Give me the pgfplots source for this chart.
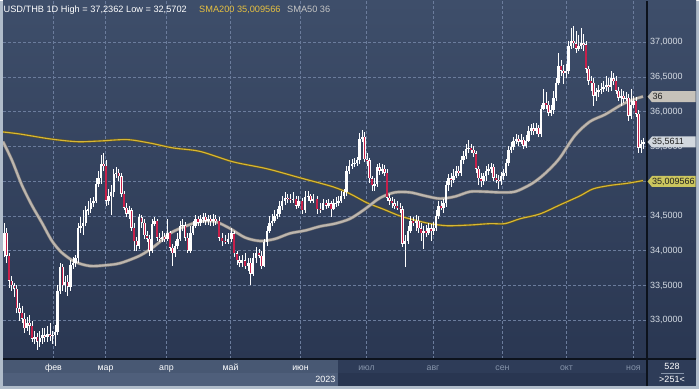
\documentclass[border=0pt]{standalone}
\usepackage{pgfplots}
\pgfplotsset{compat=1.18}
\usepackage{pgfplotstable}
\usepackage{fontspec}
\setmainfont{Liberation Sans}

\definecolor{outerframe}{HTML}{B0BCCA}
\definecolor{bgtop}{HTML}{3E4E6A}
\definecolor{bgbot}{HTML}{2A3752}
\definecolor{gridc}{HTML}{6B7C9C}
\definecolor{candred}{HTML}{C8204A}
\definecolor{smagrey}{HTML}{BDB6AE}
\definecolor{smagreyd}{HTML}{7E7A78}
\definecolor{smagold}{HTML}{D8B836}
\definecolor{smagoldd}{HTML}{6A5A1C}
\definecolor{ticktext}{HTML}{D6DCE4}
\definecolor{monthoff}{HTML}{8694AA}
\definecolor{panelL}{HTML}{485873}
\definecolor{panelLb}{HTML}{4F5F7B}
\definecolor{panelR}{HTML}{2E3C58}
\definecolor{panelRb}{HTML}{293651}
\definecolor{sepc}{HTML}{0C121C}
\definecolor{titlegold}{HTML}{E6C040}
\definecolor{titlegrey}{HTML}{C4C4C4}
\definecolor{boxgrey}{HTML}{C6C2BA}
\definecolor{boxlight}{HTML}{D2D8DE}
\definecolor{boxgold}{HTML}{CCC65E}
\definecolor{boxtext}{HTML}{202020}

\pgfplotsset{candle/.style={only marks, mark=*, mark size=0pt, mark options={draw=none, fill=none},
  error bars/.cd, y dir=both, y explicit, error mark=none}}

\pgfplotstableread{
x o h l c
4 34.00 34.40 33.91 34.26
6.6 34.26 34.32 33.83 33.93
9.1 33.93 33.97 33.47 33.57
11.7 33.57 33.63 33.42 33.50
14.2 33.50 33.54 33.34 33.45
16.8 33.45 33.50 33.11 33.17
19.3 33.17 33.24 32.99 33.11
21.9 33.11 33.21 32.96 33.02
24.4 33.02 33.11 32.82 32.88
27.0 32.88 33.05 32.85 32.96
29.5 32.96 33.08 32.78 32.92
32.1 32.92 32.99 32.69 32.73
34.6 32.73 32.85 32.65 32.76
37.2 32.76 32.82 32.5702 32.69
39.7 32.69 32.85 32.62 32.75
42.3 32.75 32.89 32.66 32.78
44.8 32.78 32.88 32.68 32.76
47.4 32.76 32.92 32.69 32.80
49.9 32.80 32.96 32.70 32.78
52.5 32.78 32.85 32.66 32.79
55.0 32.79 32.93 32.63 32.83
57.6 32.83 33.50 32.78 33.42
60.1 33.42 33.83 33.37 33.77
62.7 33.77 33.81 33.42 33.50
65.2 33.50 33.63 33.40 33.55
67.8 33.55 33.65 33.35 33.48
70.3 33.48 33.86 33.42 33.80
72.9 33.80 33.91 33.74 33.83
75.4 33.83 33.94 33.77 33.89
78.0 33.89 34.40 33.83 34.32
80.6 34.32 34.49 34.26 34.35
83.1 34.35 34.58 34.23 34.40
85.7 34.40 34.65 34.35 34.58
88.2 34.58 34.72 34.52 34.60
90.8 34.60 34.76 34.55 34.69
93.3 34.69 34.78 34.63 34.72
95.9 34.72 35.04 34.68 34.96
98.4 34.96 35.15 34.92 35.04
101.0 35.04 35.38 34.96 35.25
103.5 35.25 35.40 35.15 35.22
106.1 35.22 35.30 34.65 34.72
108.6 34.72 34.89 34.66 34.79
111.1 34.79 34.95 34.52 34.84
113.7 34.84 35.18 34.78 35.11
116.2 35.11 35.20 35.04 35.12
118.8 35.12 35.18 35.01 35.07
121.4 35.07 35.12 34.78 34.82
123.9 34.82 34.86 34.58 34.62
126.5 34.62 34.68 34.49 34.53
129.0 34.53 34.65 34.46 34.58
131.6 34.58 34.62 34.29 34.33
134.1 34.33 34.40 34.00 34.14
136.7 34.14 34.20 34.00 34.07
139.2 34.07 34.53 34.03 34.48
141.8 34.48 34.52 34.32 34.40
144.3 34.40 34.46 34.17 34.22
146.9 34.22 34.29 34.12 34.17
149.4 34.17 34.23 33.93 34.00
152.0 34.00 34.46 33.97 34.39
154.5 34.39 34.49 34.35 34.43
157.1 34.43 34.46 34.14 34.19
159.7 34.19 34.26 34.12 34.17
162.2 34.17 34.29 34.12 34.20
164.8 34.20 34.26 34.13 34.17
167.3 34.17 34.46 34.14 34.26
169.9 34.26 34.29 34.00 34.04
172.4 34.04 34.10 33.78 33.96
175.0 33.96 34.14 33.91 34.07
177.5 34.07 34.25 34.03 34.17
180.1 34.17 34.43 34.14 34.36
182.6 34.36 34.46 34.29 34.37
185.2 34.37 34.42 34.14 34.19
187.7 34.19 34.25 33.97 34.00
190.3 34.00 34.35 33.97 34.26
192.9 34.26 34.43 34.22 34.36
195.4 34.36 34.52 34.32 34.46
198.0 34.46 34.50 34.35 34.40
200.5 34.40 34.52 34.36 34.46
203.1 34.46 34.55 34.40 34.49
205.6 34.49 34.55 34.37 34.43
208.0 34.43 34.52 34.37 34.46
210.5 34.46 34.52 34.36 34.43
213.0 34.43 34.53 34.35 34.46
215.5 34.46 34.52 34.37 34.43
219.0 34.43 34.49 34.14 34.19
222.0 34.19 34.26 34.07 34.14
225.0 34.14 34.23 34.09 34.13
228.0 34.13 34.26 34.10 34.17
231.5 34.17 34.32 34.12 34.25
234.0 34.25 34.29 33.91 33.96
237.0 33.96 34.00 33.80 33.86
239.5 33.86 33.93 33.77 33.83
242.0 33.83 33.94 33.77 33.86
245.0 33.86 33.97 33.74 33.78
248.0 33.78 33.89 33.71 33.83
250.5 33.83 33.89 33.50 33.67
253.0 33.67 33.97 33.63 33.89
256.0 33.89 34.06 33.83 33.97
259.0 33.97 34.03 33.89 33.93
261.5 33.93 34.00 33.74 33.78
264.0 33.78 34.17 33.76 34.12
267.0 34.12 34.35 34.07 34.29
269.5 34.29 34.50 34.25 34.40
272.0 34.40 34.53 34.36 34.43
274.5 34.43 34.58 34.40 34.50
277.0 34.50 34.60 34.46 34.53
279.5 34.53 34.72 34.49 34.65
282.0 34.65 34.79 34.58 34.72
285.0 34.72 34.84 34.66 34.76
287.5 34.76 34.82 34.69 34.75
290.0 34.75 34.82 34.68 34.73
293.0 34.73 34.84 34.68 34.75
296.0 34.75 34.79 34.60 34.65
298.5 34.65 34.79 34.62 34.72
302.0 34.72 34.76 34.53 34.58
305.0 34.58 34.86 34.55 34.78
308.0 34.78 34.86 34.72 34.79
310.5 34.79 34.82 34.68 34.72
313.0 34.72 34.82 34.69 34.75
317.0 34.75 34.79 34.53 34.60
320.0 34.60 34.68 34.55 34.59
323.0 34.59 34.75 34.58 34.69
326.0 34.69 34.73 34.60 34.65
328.5 34.65 34.75 34.62 34.68
331.0 34.68 34.72 34.49 34.60
333.5 34.60 34.75 34.58 34.68
336.0 34.68 34.78 34.63 34.69
338.5 34.69 34.79 34.65 34.72
341.0 34.72 34.86 34.69 34.79
344.0 34.79 34.89 34.75 34.84
346.5 34.84 35.22 34.79 35.15
349.0 35.15 35.30 35.11 35.22
352.0 35.22 35.32 35.18 35.25
354.5 35.25 35.34 35.20 35.27
357.0 35.27 35.35 35.22 35.30
359.5 35.30 35.70 35.25 35.61
362.0 35.61 35.74 35.56 35.64
364.5 35.64 35.71 35.28 35.32
367.0 35.32 35.40 35.22 35.30
369.5 35.30 35.34 34.98 35.04
372.0 35.04 35.08 34.86 34.94
374.5 34.94 35.04 34.86 34.96
377.0 34.96 35.25 34.92 35.20
379.5 35.20 35.27 35.09 35.15
382.0 35.15 35.25 35.11 35.18
384.5 35.18 35.24 35.07 35.12
387.0 35.12 35.18 34.72 34.76
389.5 34.76 34.82 34.66 34.72
392.0 34.72 34.78 34.62 34.68
394.5 34.68 34.75 34.60 34.65
397.0 34.65 34.72 34.58 34.62
400.0 34.62 34.68 34.55 34.60
402.5 34.60 34.65 34.06 34.10
405.0 34.10 34.22 33.76 34.14
408.0 34.14 34.35 34.09 34.29
410.5 34.29 34.50 34.25 34.43
413.0 34.43 34.49 34.35 34.40
416.0 34.40 34.52 34.29 34.43
418.5 34.43 34.50 34.26 34.32
421.0 34.32 34.40 34.14 34.25
423.5 34.25 34.36 34.03 34.29
426.0 34.29 34.37 34.20 34.26
428.5 34.26 34.40 34.23 34.32
431.0 34.32 34.39 34.14 34.29
433.5 34.29 34.42 34.22 34.33
436.0 34.33 34.58 34.29 34.50
438.5 34.50 34.72 34.46 34.65
441.0 34.65 34.72 34.58 34.62
443.5 34.62 34.75 34.55 34.68
446.0 34.68 35.01 34.63 34.94
448.5 34.94 35.11 34.86 35.04
451.0 35.04 35.12 34.92 35.02
453.5 35.02 35.17 34.98 35.08
456.0 35.08 35.22 35.04 35.15
458.5 35.15 35.22 35.07 35.12
461.0 35.12 35.37 35.08 35.30
463.5 35.30 35.44 35.25 35.37
466.0 35.37 35.54 35.32 35.47
468.5 35.47 35.60 35.41 35.48
471.0 35.48 35.54 35.40 35.45
473.5 35.45 35.51 35.35 35.40
476.0 35.40 35.44 35.12 35.18
478.5 35.18 35.22 34.94 35.04
481.0 35.04 35.12 34.92 35.01
483.5 35.01 35.12 34.95 35.07
486.0 35.07 35.22 35.01 35.15
488.5 35.15 35.25 35.09 35.18
491.0 35.18 35.27 35.12 35.21
493.5 35.21 35.25 35.01 35.05
496.0 35.05 35.11 34.98 35.02
498.5 35.02 35.09 34.89 35.01
501.0 35.01 35.14 34.95 35.07
503.5 35.07 35.18 35.02 35.12
506.0 35.12 35.32 35.08 35.27
508.5 35.27 35.51 35.22 35.45
511.0 35.45 35.57 35.41 35.50
513.5 35.50 35.64 35.45 35.58
516.0 35.58 35.68 35.53 35.61
518.5 35.61 35.67 35.51 35.57
521.0 35.57 35.68 35.53 35.60
523.5 35.60 35.64 35.47 35.51
526.0 35.51 35.67 35.48 35.58
528.5 35.58 35.80 35.56 35.73
531.0 35.73 35.83 35.66 35.76
533.5 35.76 35.84 35.67 35.73
536.0 35.73 35.84 35.68 35.77
538.5 35.77 35.81 35.64 35.68
541.0 35.68 36.10 35.64 36.04
543.5 36.04 36.33 36.02 36.13
546.0 36.13 36.28 36.04 36.10
548.5 36.10 36.16 35.94 35.99
551.0 35.99 36.10 35.94 36.02
553.5 36.02 36.30 35.97 36.20
556.0 36.20 36.48 36.16 36.42
558.5 36.42 36.84 36.38 36.66
561.0 36.66 36.74 36.52 36.59
563.5 36.59 36.68 36.40 36.56
566.0 36.56 36.69 36.48 36.59
568.5 36.59 37.02 36.55 36.95
571.0 36.95 37.21 36.91 37.02
573.5 37.02 37.2362 36.92 36.99
576.0 36.99 37.17 36.85 36.91
578.5 36.91 37.10 36.88 36.95
581.0 36.95 37.20 36.91 36.99
583.5 36.99 37.12 36.88 36.97
586.0 36.97 37.02 36.56 36.62
588.5 36.62 36.66 36.38 36.45
591.0 36.45 36.51 36.30 36.42
593.5 36.42 36.48 36.09 36.23
596.0 36.23 36.35 36.16 36.28
598.5 36.28 36.39 36.22 36.32
601.0 36.32 36.42 36.25 36.33
603.5 36.33 36.45 36.28 36.36
606.0 36.36 36.52 36.30 36.38
608.5 36.38 36.48 36.28 36.36
611.0 36.36 36.59 36.30 36.48
613.5 36.48 36.56 36.39 36.45
616.0 36.45 36.51 36.26 36.30
618.5 36.30 36.36 36.16 36.20
621.0 36.20 36.33 36.09 36.23
623.5 36.23 36.30 36.13 36.19
626.0 36.19 36.28 36.15 36.20
628.5 36.20 36.25 35.87 35.94
631.0 35.94 36.33 35.90 36.10
633.5 36.10 36.23 36.06 36.16
636.0 36.16 36.22 35.93 35.97
638.5 35.97 36.02 35.40 35.48
641.0 35.48 35.60 35.41 35.53
643.5 35.53 35.63 35.47 35.5611
}\candles

\begin{document}
\begin{tikzpicture}[x=1pt,y=1pt]
\fill[outerframe] (0,0) rectangle (699,388);
\shade[top color=bgtop,bottom color=bgbot] (3,30) rectangle (696,388);
\fill[panelL] (3,16) rectangle (337.5,30);
\fill[panelLb] (3,2.5) rectangle (337.5,16);
\fill[panelR] (337.5,16) rectangle (647,30);
\fill[panelRb] (337.5,2.5) rectangle (647,16);
\fill[panelR] (647,2.5) rectangle (696,30);

\begin{axis}[
  at={(3pt,30pt)}, anchor=south west,
  scale only axis, width=644pt, height=358pt,
  xmin=3, xmax=647, ymin=32.445, ymax=37.6,
  axis line style={draw=none},
  major tick length=0pt,
  xtick={53.5,105.5,166.5,230.5,300.5,366.5,433,502.5,566.5,633.5},
  xticklabels={фев,мар,апр,май,июн,\textcolor{monthoff}{июл},\textcolor{monthoff}{авг},\textcolor{monthoff}{сен},\textcolor{monthoff}{окт},\textcolor{monthoff}{ноя}},
  xticklabel style={anchor=base, yshift=-11.5pt, text=white, font=\fontsize{8.8}{9}\selectfont},
  ytick={33,33.5,34,34.5,35,35.5,36,36.5,37},
  yticklabels={{33,0000},{33,5000},{34,0000},{34,5000},{},{35,5000},{36,0000},{36,5000},{37,0000}},
  yticklabel pos=right,
  yticklabel style={anchor=west, text=ticktext, font=\fontsize{9}{10}\selectfont, xshift=-0.5pt},
  grid=major,
  major grid style={draw=gridc, line width=0.7pt, dash pattern=on 2.5pt off 2.5pt},
  clip mode=individual,
]
% SMA200
\addplot[smagoldd, line width=2.2pt, smooth, tension=0.5] coordinates {
(3,35.71) (20,35.68) (50,35.61) (77,35.57) (100,35.58) (127,35.60) (150,35.55) (173,35.48) (200,35.43) (233,35.28) (267,35.18) (300,35.05) (333,34.92) (350,34.82) (367,34.69) (383,34.60) (400,34.50) (415,34.44) (430,34.39) (447,34.36) (470,34.37) (490,34.39) (505,34.39) (520,34.46) (540,34.53) (560,34.66) (580,34.79) (593,34.89) (610,34.94) (627,34.97) (643,35.01)};
\addplot[smagold, line width=1.1pt, smooth, tension=0.5] coordinates {
(3,35.71) (20,35.68) (50,35.61) (77,35.57) (100,35.58) (127,35.60) (150,35.55) (173,35.48) (200,35.43) (233,35.28) (267,35.18) (300,35.05) (333,34.92) (350,34.82) (367,34.69) (383,34.60) (400,34.50) (415,34.44) (430,34.39) (447,34.36) (470,34.37) (490,34.39) (505,34.39) (520,34.46) (540,34.53) (560,34.66) (580,34.79) (593,34.89) (610,34.94) (627,34.97) (643,35.01)};
% SMA50
\addplot[smagreyd, line width=3.2pt, smooth, tension=0.5] coordinates {
(3,35.57) (12,35.30) (22,34.94) (32,34.65) (42,34.40) (52,34.14) (62,33.97) (75,33.84) (90,33.78) (105,33.79) (120,33.82) (140,33.93) (155,34.07) (170,34.25) (185,34.35) (200,34.42) (215,34.42) (230,34.32) (245,34.19) (260,34.14) (275,34.17) (290,34.25) (305,34.29) (320,34.35) (335,34.39) (350,34.46) (365,34.60) (380,34.76) (395,34.84) (410,34.84) (425,34.79) (440,34.75) (455,34.78) (470,34.85) (485,34.85) (500,34.84) (515,34.85) (530,34.95) (540,35.05) (550,35.18) (560,35.34) (575,35.66) (590,35.86) (605,35.96) (620,36.09) (632,36.17) (643,36.22)};
\addplot[smagrey, line width=2.1pt, smooth, tension=0.5] coordinates {
(3,35.57) (12,35.30) (22,34.94) (32,34.65) (42,34.40) (52,34.14) (62,33.97) (75,33.84) (90,33.78) (105,33.79) (120,33.82) (140,33.93) (155,34.07) (170,34.25) (185,34.35) (200,34.42) (215,34.42) (230,34.32) (245,34.19) (260,34.14) (275,34.17) (290,34.25) (305,34.29) (320,34.35) (335,34.39) (350,34.46) (365,34.60) (380,34.76) (395,34.84) (410,34.84) (425,34.79) (440,34.75) (455,34.78) (470,34.85) (485,34.85) (500,34.84) (515,34.85) (530,34.95) (540,35.05) (550,35.18) (560,35.34) (575,35.66) (590,35.86) (605,35.96) (620,36.09) (632,36.17) (643,36.22)};
% wicks
\addplot[candle, error bar style={draw=white, line width=0.75pt}]
  table[x=x, y expr={(\thisrow{h}+\thisrow{l})/2}, y error expr={(\thisrow{h}-\thisrow{l})/2}] {\candles};
% bodies
\addplot[candle, error bar style={draw=white, line width=2.4pt}]
  table[x=x, y expr={(\thisrow{o}+\thisrow{c})/2}, y error expr={max(abs(\thisrow{o}-\thisrow{c})/2,0.006)}] {\candles};
% red fill of falling candles (rising ones are sent above the plot, where they are clipped)
\addplot[candle, error bar style={draw=candred, line width=1.3pt}]
  table[x=x, y expr={(\thisrow{c}<\thisrow{o}) ? ((\thisrow{o}+\thisrow{c})/2) : 40}, y error expr={(\thisrow{c}<\thisrow{o}) ? max(abs(\thisrow{o}-\thisrow{c})/2-0.007,0.001) : 0}] {\candles};
\end{axis}

\draw[sepc, line width=1.4pt] (3,29.6) -- (696,29.6);
\draw[sepc, line width=1.4pt] (647,2.5) -- (647,388);

% title line
\node[anchor=base west, inner sep=0, text=white, font=\fontsize{9.2}{10}\selectfont] at (3.5,376.3) {USD/THB 1D High = 37,2362 Low = 32,5702};
\node[anchor=base west, inner sep=0, text=titlegold, font=\fontsize{9.2}{10}\selectfont] at (199,376.3) {SMA200 35,009566};
\node[anchor=base west, inner sep=0, text=titlegrey, font=\fontsize{9.2}{10}\selectfont] at (287,376.3) {SMA50 36};

% price boxes
\fill[boxgrey] (647.5,292) -- (652,297.5) -- (695.5,297.5) -- (695.5,286.5) -- (652,286.5) -- cycle;
\node[anchor=west, inner sep=0, text=boxtext, font=\fontsize{9}{10}\selectfont] at (652.5,292) {36};
\fill[boxlight] (647.5,246.7) -- (652,252.2) -- (695.5,252.2) -- (695.5,241.2) -- (652,241.2) -- cycle;
\node[anchor=west, inner sep=0, text=boxtext, font=\fontsize{9}{10}\selectfont] at (651.8,246.7) {35,5611};
\fill[boxgold] (647.5,207.2) -- (652,212.7) -- (695.5,212.7) -- (695.5,201.7) -- (652,201.7) -- cycle;
\node[anchor=west, inner sep=0, text=boxtext, font=\fontsize{9}{10}\selectfont] at (651.8,207.2) {35,009566};

% bottom panel texts
\node[anchor=east, inner sep=0, text=white, font=\fontsize{9}{10}\selectfont] at (335.5,9.7) {2023};
\node[inner sep=0, text=white, font=\fontsize{9}{10}\selectfont] at (672,22) {528};
\draw[color=monthoff, line width=0.6pt] (661,15.6) -- (684,15.6);
\node[inner sep=0, text=white, font=\fontsize{9}{10}\selectfont] at (672,9.3) {>251<};
\end{tikzpicture}
\end{document}
